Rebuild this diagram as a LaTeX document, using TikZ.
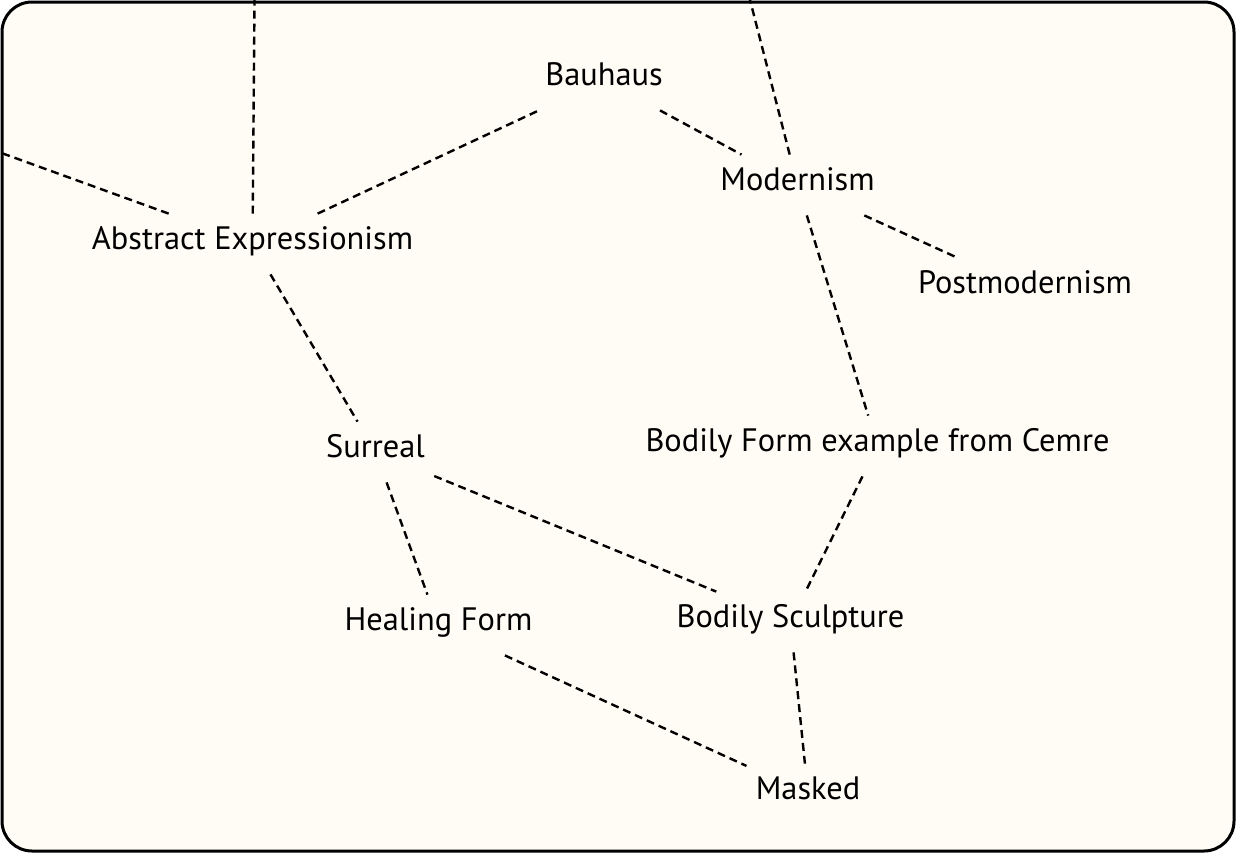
\documentclass[tikz,border=0pt]{standalone}
\usepackage{fontspec}
\setmainfont{PT Sans}
\usepackage{tikz}
\usetikzlibrary{positioning}
\definecolor{paper}{RGB}{255,252,245}

\begin{document}
\begin{tikzpicture}[x=0.5pt,y=-0.5pt,
term/.style={inner xsep=4.5pt,inner ysep=6.5pt,text height=11pt,text depth=6pt,
    anchor=base,font=\fontsize{16.2}{19}\selectfont},
link/.style={draw,line width=1.2pt,dash pattern=on 4pt off 2.5pt}]
\path[use as bounding box] (0,0) rectangle (1236,853);
\draw[fill=paper,line width=1.5pt,rounded corners=15pt] (2,2) rectangle (1234,851);

\node (bauhaus) [term] at (604,85) {Bauhaus};
\node (modernism) [term] at (797.5,190) {Modernism};
\node (abstract) [term] at (252.5,249) {Abstract Expressionism};
\node (postmod) [term] at (1025,293.5) {Postmodernism};
\node (surreal) [term] at (375.5,457) {Surreal};
\node (cemre) [term] at (877.5,451) {Bodily Form example from Cemre};
\node (healing) [term] at (438.5,630) {Healing Form};
\node (sculpture) [term] at (790.5,627) {Bodily Sculpture};
\node (masked) [term] at (808,799) {Masked};

% ends outside the frame
\coordinate (abstractup) at (257,-300);
\coordinate (abstractleft) at (-200,80);
\coordinate (modernismup) at (673,-300);

\begin{scope}
\clip (0,0) rectangle (1236,853);
\draw [link] (abstract) -- (abstractup);
\draw [link] (abstract) -- (abstractleft);
\draw [link] (abstract) -- (bauhaus);
\draw [link] (bauhaus) -- (modernism);
\draw [link] (modernism) -- (modernismup);
\draw [link] (modernism) -- (postmod);
\draw [link] (modernism) -- (cemre);
\draw [link] (abstract) -- (surreal);
\draw [link] (surreal) -- (healing);
\draw [link] (surreal) -- (sculpture);
\draw [link] (cemre) -- (sculpture);
\draw [link] (healing) -- (masked);
\draw [link] (sculpture) -- (masked);
\end{scope}
\end{tikzpicture}
\end{document}
